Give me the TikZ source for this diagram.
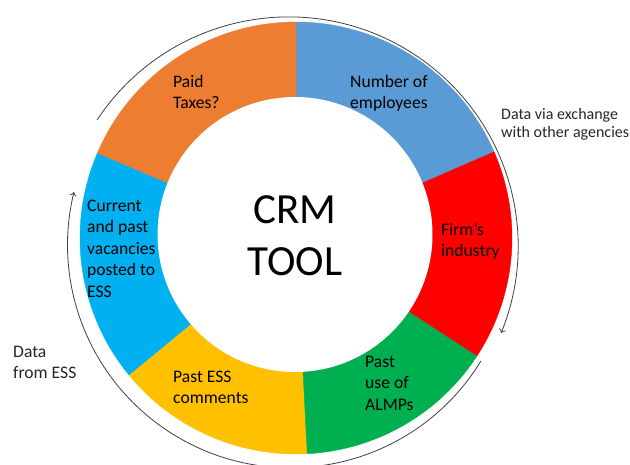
\documentclass[tikz,border=0pt]{standalone}
\usepackage{fontspec}
\setmainfont{Carlito}
\usetikzlibrary{arrows.meta}
\definecolor{segorange}{HTML}{ED7D31}
\definecolor{segblue}{HTML}{5B9BD5}
\definecolor{segred}{HTML}{FF0000}
\definecolor{seggreen}{HTML}{00B050}
\definecolor{segyellow}{HTML}{FFC000}
\definecolor{segcyan}{HTML}{00B0F0}
\definecolor{flowgray}{HTML}{404040}
% left-aligned block whose baseline is that of its first line
\newcommand\lblock[1]{\begin{tabular}[t]{@{}l@{}}#1\end{tabular}}
\newcommand\cblock[1]{\begin{tabular}[t]{@{}c@{}}#1\end{tabular}}

\begin{document}
\begin{tikzpicture}[x=1pt,y=1pt,
  wedge/.style={fill=#1, draw=#1, line width=0.4pt},
  ringlabel/.style={anchor=base west, inner sep=0pt, text=black,
    font=\fontsize{17.6}{21.5}\selectfont},
  sidelabel/.style={anchor=base west, inner sep=0pt, text=black!85},
  flow/.style={draw=flowgray, line width=0.8pt, -{To[length=4pt,width=7pt]}}]
\useasboundingbox (0,0) rectangle (630,-464);

% ring segments as pie wedges around the outer centre
\begin{scope}[shift={(296,-238)}]
  \filldraw[wedge=segblue]   (0,0) -- (23.5:216)  arc[start angle=23.5,  end angle=90,    radius=216] -- cycle;
  \filldraw[wedge=segorange] (0,0) -- (90:216)    arc[start angle=90,    end angle=157,   radius=216] -- cycle;
  \filldraw[wedge=segcyan]   (0,0) -- (157:216)   arc[start angle=157,   end angle=219.5, radius=216] -- cycle;
  \filldraw[wedge=segyellow] (0,0) -- (219.5:216) arc[start angle=219.5, end angle=273,   radius=216] -- cycle;
  \filldraw[wedge=seggreen]  (0,0) -- (273:216)   arc[start angle=273,   end angle=327,   radius=216] -- cycle;
  \filldraw[wedge=segred]    (0,0) -- (327:216)   arc[start angle=327,   end angle=383.5, radius=216] -- cycle;
\end{scope}
% hollow centre
\fill[white] (295,-234.5) circle[radius=137.5];

% flow arcs around the ring
\begin{scope}[shift={(288.6,-246.4)}]
  \draw[flow] (146.6:229.5) arc[start angle=146.6, end angle=-22.2, radius=229.5];
\end{scope}
\begin{scope}[shift={(290.6,-244.8)}]
  \draw[flow] (-31.4:223) arc[start angle=-31.4, end angle=-193.7, radius=223];
\end{scope}

% centre title
\node[anchor=base, inner sep=0pt, font=\fontsize{43}{52}\selectfont] (title)
  at (295,-223) {\cblock{CRM\\TOOL}};

% segment labels
\node[ringlabel] (taxes)     at (173,-87)  {\lblock{Paid\\Taxes?}};
\node[ringlabel] (employees) at (350,-87)  {\lblock{Number of\\employees}};
\node[ringlabel] (industry)  at (441,-235) {\lblock{Firm’s\\industry}};
\node[ringlabel] (almps)     at (365,-367) {\lblock{Past\\use of\\ALMPs}};
\node[ringlabel] (comments)  at (173,-382) {\lblock{Past ESS\\comments}};
\node[ringlabel] (vacancies) at (87,-211)  {\lblock{Current\\and past\\vacancies\\posted to\\ESS}};

% source labels outside the ring
\node[sidelabel, font=\fontsize{17.6}{21}\selectfont] (fromess)  at (13,-357)  {\lblock{Data\\from ESS}};
\node[sidelabel, font=\fontsize{16}{18}\selectfont]   (exchange) at (501,-119) {\lblock{Data via exchange\\with other agencies}};
\end{tikzpicture}
\end{document}
